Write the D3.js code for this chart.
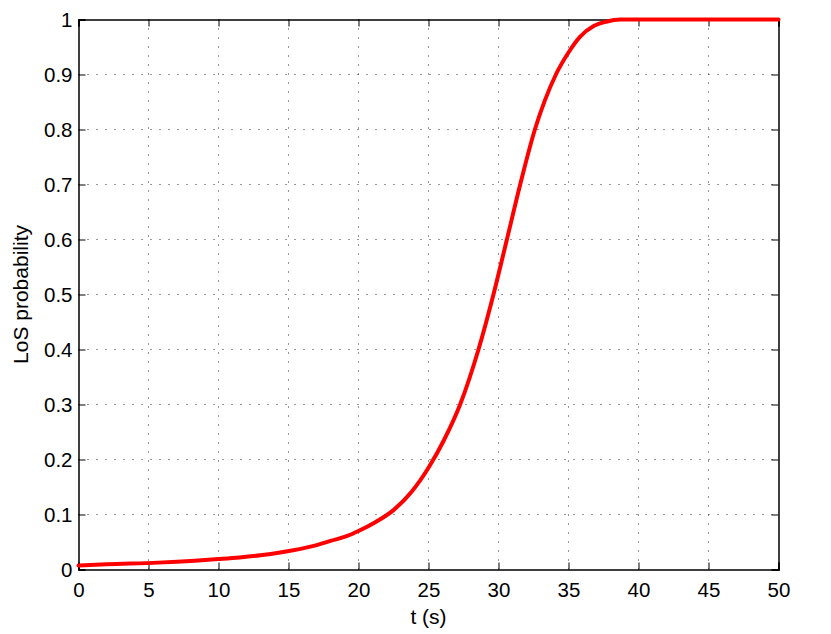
<!DOCTYPE html>
<html>
<head>
<meta charset="utf-8">
<script src="https://cdn.jsdelivr.net/npm/d3@7"></script>
<style>
	body { margin: 0; background: #fff; }
	svg { display: block; font-family: 'Liberation Sans', Arial, sans-serif; }
	.grid line { stroke: #333; stroke-width: 1; stroke-dasharray: 1,8; }
	.axis path, .axis line { stroke: #000; }
	.axis text { font-size: 20.5px; fill: #000; }
</style>
</head>
<body>
<svg width="831" height="634"></svg>
<script>
'use strict'

// Curve
const tValues = [0, 2, 5.7, 8.3, 10, 11.5, 13, 14.4, 16.8, 18, 19.2, 20, 21.2, 22.5, 23.75, 25, 26.1, 27.26, 28.57, 29.64, 30.6, 31.55, 32.6, 33.3, 34.1, 35, 35.8, 36.8, 37.7, 38.7, 50]
const pValues = [0.0073, 0.0095, 0.0125, 0.016, 0.019, 0.022, 0.026, 0.031, 0.043, 0.052, 0.061, 0.07, 0.086, 0.108, 0.14, 0.185, 0.235, 0.3, 0.4, 0.5, 0.6, 0.7, 0.8, 0.852, 0.9, 0.94, 0.968, 0.988, 0.996, 1, 1]

const xTicks = [0, 5, 10, 15, 20, 25, 30, 35, 40, 45, 50]
const yTicks = [0, 0.1, 0.2, 0.3, 0.4, 0.5, 0.6, 0.7, 0.8, 0.9, 1]
const yTickLabels = ['0', '0.1', '0.2', '0.3', '0.4', '0.5', '0.6', '0.7', '0.8', '0.9', '1']

const xLabel = 't (s)'
const yLabel = 'LoS probability'

const M = { left: 78.5, top: 19.5, w: 700, h: 550 }

const svg = d3.select('svg')
const g = svg.append('g').attr('transform', `translate(${M.left},${M.top})`)

const x = d3.scaleLinear().domain([0, 50]).range([0, M.w])
const y = d3.scaleLinear().domain([0, 1]).range([M.h, 0])

// Dotted grid
const grid = g.append('g').classed('grid', true)
grid.selectAll('line.v').data(xTicks.slice(1, -1)).enter().append('line')
	.attr('x1', (d) => x(d)).attr('x2', (d) => x(d))
	.attr('y1', 0).attr('y2', M.h)
grid.selectAll('line.h').data(yTicks.slice(1, -1)).enter().append('line')
	.attr('x1', 0).attr('x2', M.w)
	.attr('y1', (d) => y(d)).attr('y2', (d) => y(d))

// Axes with inward ticks on all four sides
g.append('g').classed('axis', true)
	.attr('transform', `translate(0,${M.h})`)
	.call(d3.axisBottom(x).tickValues(xTicks).tickSize(-7).tickPadding(13).tickFormat(d3.format('d')))
g.append('g').classed('axis', true)
	.call(d3.axisLeft(y).tickValues(yTicks).tickSize(-7).tickPadding(6).tickFormat((d, i) => yTickLabels[i]))
g.append('g').classed('axis', true)
	.call(d3.axisTop(x).tickValues(xTicks).tickSize(-7).tickFormat(''))
g.append('g').classed('axis', true)
	.attr('transform', `translate(${M.w},0)`)
	.call(d3.axisRight(y).tickValues(yTicks).tickSize(-7).tickFormat(''))
g.selectAll('.axis .domain').attr('stroke-width', 1.5)

// Curve
const line = d3.line()
	.x((d, i) => x(tValues[i]))
	.y((d) => y(d))
	.curve(d3.curveMonotoneX)
g.append('path')
	.datum(pValues)
	.attr('fill', 'none')
	.attr('stroke', '#ff0000')
	.attr('stroke-width', 4)
	.attr('stroke-linejoin', 'round')
	.attr('stroke-linecap', 'round')
	.attr('d', line)

// Labels
svg.append('text')
	.attr('x', M.left + M.w / 2).attr('y', 624)
	.attr('text-anchor', 'middle')
	.style('font-size', '21px')
	.text(xLabel)
svg.append('text')
	.attr('transform', `translate(28,${M.top + M.h / 2}) rotate(-90)`)
	.attr('text-anchor', 'middle')
	.style('font-size', '21px')
	.text(yLabel)
</script>
</body>
</html>
